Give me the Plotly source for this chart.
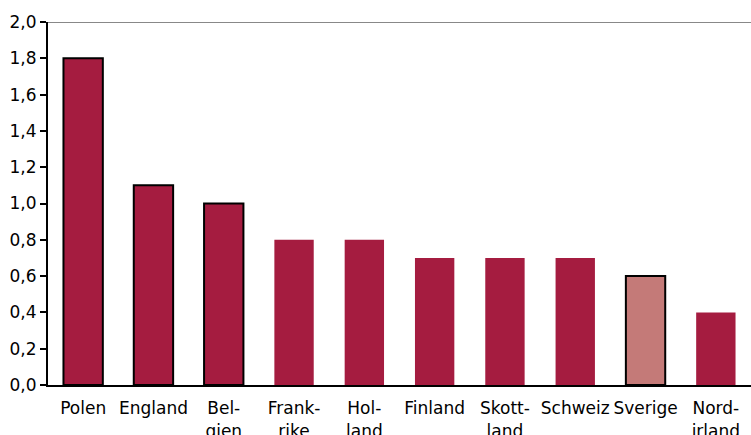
import plotly.graph_objects as go

categories = ["Polen", "England", "Bel-<br>gien", "Frank-<br>rike", "Hol-<br>land",
              "Finland", "Skott-<br>land", "Schweiz", "Sverige", "Nord-<br>irland"]
values = [1.8, 1.1, 1.0, 0.8, 0.8, 0.7, 0.7, 0.7, 0.6, 0.4]
outlined = [True, True, True, False, False, False, False, False, True, False]
highlight = "Sverige"

main_color = "#A51C40"
hl_color = "#C47A78"

colors = [hl_color if c == highlight else main_color for c in categories]
line_widths = [2 if o else 0 for o in outlined]

fig = go.Figure(go.Bar(
    x=categories, y=values,
    marker=dict(color=colors, line=dict(color="black", width=line_widths)),
    width=0.56,
))

fig.update_layout(
    width=751, height=435,
    margin=dict(l=48, r=0, t=22, b=50, autoexpand=False),
    plot_bgcolor="white", paper_bgcolor="white",
    separators=",.",
    showlegend=False,
    font=dict(family="DejaVu Sans", color="black"),
    xaxis=dict(
        showline=True, linecolor="black", linewidth=2, automargin=False,
        ticks="", tickfont=dict(size=17), showgrid=False, ticklabelstandoff=7,
    ),
    yaxis=dict(
        range=[0, 2.0], tickvals=[0, 0.2, 0.4, 0.6, 0.8, 1.0, 1.2, 1.4, 1.6, 1.8, 2.0],
        tickformat=".1f", showline=True, linecolor="black", linewidth=2, automargin=False,
        ticks="outside", ticklen=6, tickwidth=2, tickcolor="black",
        tickfont=dict(size=17), showgrid=False, zeroline=False,
    ),
    shapes=[dict(type="line", xref="paper", yref="y", x0=0, x1=1, y0=2.0, y1=2.0,
                 line=dict(color="#888888", width=2))],
)

fig.write_html("out.html", config={"displayModeBar": False},
               post_script="document.body.style.margin='0';document.body.style.overflow='hidden';")
